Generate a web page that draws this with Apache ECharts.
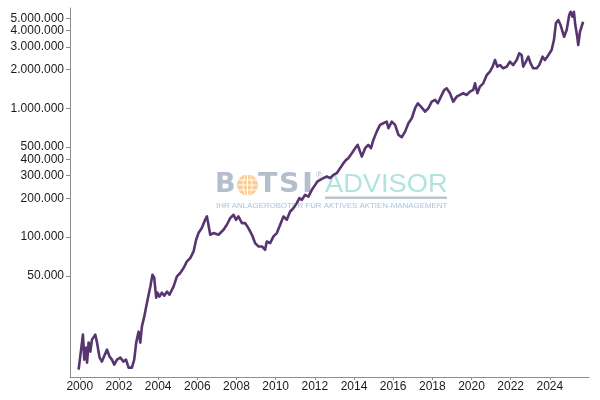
<!DOCTYPE html>
<html>
<head>
<meta charset="utf-8">
<script src="https://cdn.jsdelivr.net/npm/echarts@6/dist/echarts.min.js"></script>
<style>
html,body{margin:0;padding:0;background:#fff;}
#chart{width:600px;height:400px;}
</style>
</head>
<body>
<div id="chart"></div>
<script>
const years = [1999.94, 2000.16, 2000.23, 2000.32, 2000.37, 2000.45, 2000.54, 2000.62, 2000.79, 2000.88, 2001.01, 2001.13, 2001.21, 2001.39, 2001.52, 2001.64, 2001.76, 2001.90, 2002.07, 2002.23, 2002.36, 2002.49, 2002.58, 2002.66, 2002.78, 2002.88, 2003.00, 2003.09, 2003.17, 2003.29, 2003.43, 2003.60, 2003.71, 2003.80, 2003.90, 2003.97, 2004.07, 2004.19, 2004.31, 2004.45, 2004.58, 2004.79, 2004.96, 2005.13, 2005.30, 2005.47, 2005.64, 2005.81, 2005.94, 2006.06, 2006.23, 2006.40, 2006.49, 2006.57, 2006.66, 2006.83, 2007.08, 2007.34, 2007.51, 2007.68, 2007.85, 2007.98, 2008.10, 2008.28, 2008.44, 2008.61, 2008.79, 2008.95, 2009.12, 2009.30, 2009.38, 2009.46, 2009.55, 2009.72, 2009.89, 2010.06, 2010.23, 2010.40, 2010.57, 2010.74, 2010.91, 2011.08, 2011.21, 2011.34, 2011.51, 2011.67, 2011.85, 2012.02, 2012.13, 2012.27, 2012.44, 2012.61, 2012.78, 2012.95, 2013.12, 2013.29, 2013.46, 2013.60, 2013.71, 2013.89, 2014.06, 2014.19, 2014.31, 2014.40, 2014.57, 2014.73, 2014.87, 2014.99, 2015.16, 2015.33, 2015.50, 2015.67, 2015.76, 2015.93, 2016.10, 2016.27, 2016.44, 2016.61, 2016.78, 2016.95, 2017.12, 2017.26, 2017.42, 2017.63, 2017.80, 2017.97, 2018.14, 2018.28, 2018.44, 2018.61, 2018.73, 2018.90, 2019.07, 2019.24, 2019.41, 2019.58, 2019.76, 2019.92, 2020.09, 2020.18, 2020.30, 2020.43, 2020.60, 2020.78, 2020.94, 2021.08, 2021.20, 2021.32, 2021.45, 2021.62, 2021.80, 2021.96, 2022.13, 2022.31, 2022.44, 2022.56, 2022.64, 2022.78, 2022.90, 2023.02, 2023.15, 2023.33, 2023.46, 2023.63, 2023.75, 2023.87, 2023.97, 2024.09, 2024.21, 2024.31, 2024.43, 2024.55, 2024.65, 2024.73, 2024.86, 2024.99, 2025.06, 2025.16, 2025.23, 2025.30, 2025.40, 2025.45, 2025.54, 2025.62, 2025.70];

const values = [9360, 17480, 11190, 13870, 10610, 15160, 12910, 15990, 17480, 15160, 11600, 10800, 11190, 13380, 11810, 11190, 10230, 11190, 11600, 10800, 11190, 9700, 10050, 9700, 11190, 15160, 18440, 15160, 20170, 24110, 30950, 41190, 51040, 48370, 33840, 37000, 34450, 37000, 35070, 37670, 35690, 41410, 49500, 52600, 57500, 64700, 68740, 77330, 95300, 107400, 117400, 136200, 144500, 124600, 104200, 107400, 104200, 113900, 124600, 140400, 148900, 136200, 144500, 128400, 128400, 117400, 104200, 89840, 84560, 84560, 82170, 79700, 92450, 89840, 101100, 107400, 124600, 144500, 136200, 157900, 167800, 183400, 200600, 194600, 212700, 206400, 232600, 254300, 269800, 278100, 286700, 295000, 286700, 304100, 313400, 342700, 374700, 397300, 409600, 448000, 489700, 519500, 460900, 421500, 489700, 519500, 489700, 568000, 658600, 742300, 765200, 787400, 699800, 787400, 742300, 620900, 596000, 658600, 765200, 836500, 1000000, 1093000, 1029000, 941000, 1000000, 1125000, 1160000, 1093000, 1230000, 1387000, 1429000, 1307000, 1125000, 1230000, 1268000, 1307000, 1268000, 1345000, 1387000, 1562000, 1307000, 1471000, 1562000, 1812000, 1922000, 2102000, 2368000, 2102000, 2166000, 2042000, 2102000, 2297000, 2166000, 2368000, 2669000, 2589000, 2102000, 2297000, 2512000, 2233000, 2042000, 2042000, 2166000, 2512000, 2368000, 2512000, 2441000, 2831000, 3384000, 4559000, 4836000, 4423000, 4292000, 3589000, 4046000, 5288000, 5609000, 5130000, 5609000, 4423000, 3589000, 3095000, 3925000, 4292000, 4692000];

const xTickYears = [2000, 2002, 2004, 2006, 2008, 2010, 2012, 2014, 2016, 2018, 2020, 2022, 2024];
const yTickValues = [50000, 100000, 200000, 300000, 400000, 500000, 1000000, 2000000, 3000000, 4000000, 5000000];

const logoWordLeft = ['B', 'T', 'S', 'I'];
const logoWordRight = 'ADVISOR';
const logoTagline = 'IHR ANLAGEROBOTER FÜR AKTIVES AKTIEN-MANAGEMENT';

const seriesData = years.map((y, i) => [y, values[i]]);
const fmt = v => String(Math.round(v)).replace(/\B(?=(\d{3})+(?!\d))/g, '.');

const chart = echarts.init(document.getElementById('chart'), null, {renderer: 'canvas'});
const axisGray = '#8e8e8e';
const labelFont = {color: '#1a1a1a', fontSize: 12, fontFamily: 'Liberation Sans, Arial, sans-serif'};
const grayLogo = '#b3bfcc';
const bigFont = 'bold 27px "DejaVu Sans", sans-serif';

const letterPos = [215, 258, 279, 302];
const letterScale = [1.0, 1.05, 1.05, 1.1];
const logoEls = [];
logoWordLeft.forEach((ch, i) => {
  logoEls.push({type: 'text', x: letterPos[i], y: 184.5, scaleX: letterScale[i], z: -1,
    style: {text: ch, fill: grayLogo, font: bigFont, textAlign: 'left', textVerticalAlign: 'middle'}});
});
logoEls.push({type: 'circle', shape: {cx: 247.5, cy: 185, r: 10.5}, z: -1, style: {fill: '#f8cc92'}});
logoEls.push({type: 'ellipse', shape: {cx: 247.5, cy: 185, rx: 4.5, ry: 10.5}, z: -1, style: {fill: 'none', stroke: '#fff', lineWidth: 1}});
logoEls.push({type: 'line', shape: {x1: 247.5, y1: 174.5, x2: 247.5, y2: 195.5}, z: -1, style: {stroke: '#fff', lineWidth: 1}});
[180, 185, 190].forEach(yy => logoEls.push({type: 'line', shape: {x1: 238, y1: yy, x2: 257, y2: yy}, z: -1, style: {stroke: '#fff', lineWidth: 1}}));
logoEls.push({type: 'text', x: 316, y: 176, z: -1, style: {text: '®', fill: grayLogo, font: '9px "Liberation Sans", Arial, sans-serif', textAlign: 'left', textVerticalAlign: 'middle'}});
logoEls.push({type: 'text', x: 325, y: 185.5, scaleX: 1.09, z: -1,
  style: {text: logoWordRight, fill: '#b2e3de', font: '25px "Liberation Sans", Arial, sans-serif', textAlign: 'left', textVerticalAlign: 'middle'}});
logoEls.push({type: 'rect', shape: {x: 325, y: 196.5, width: 122, height: 2.5}, z: -1, style: {fill: '#b9c5cf'}});
logoEls.push({type: 'text', x: 216, y: 205.5, scaleX: 1.03, z: -1,
  style: {text: logoTagline, fill: '#adc3dc', font: '7.7px "Liberation Sans", Arial, sans-serif', textAlign: 'left', textVerticalAlign: 'middle'}});

chart.setOption({
  animation: false,
  backgroundColor: '#ffffff',
  grid: {left: 70, right: 11, top: 8, bottom: 23},
  graphic: {elements: logoEls},
  xAxis: {
    type: 'value',
    min: 1999.5,
    max: 2026,
    axisLine: {show: true, lineStyle: {color: axisGray, width: 1}},
    axisTick: {show: true, length: 3, lineStyle: {color: axisGray}, customValues: xTickYears},
    axisLabel: Object.assign({margin: 4, customValues: xTickYears, formatter: v => String(v)}, labelFont),
    splitLine: {show: false}
  },
  yAxis: {
    type: 'log',
    logBase: 10,
    min: 8200,
    max: 6000000,
    axisLine: {show: true, lineStyle: {color: axisGray, width: 1}},
    axisTick: {show: true, length: 4, lineStyle: {color: axisGray}, customValues: yTickValues},
    axisLabel: Object.assign({margin: 6, customValues: yTickValues, formatter: v => fmt(v)}, labelFont),
    splitLine: {show: false}
  },
  series: [{
    type: 'line',
    data: seriesData,
    showSymbol: false,
    symbol: 'none',
    z: 5,
    lineStyle: {color: '#573570', width: 2.6, join: 'round'}
  }]
});
</script>
</body>
</html>
